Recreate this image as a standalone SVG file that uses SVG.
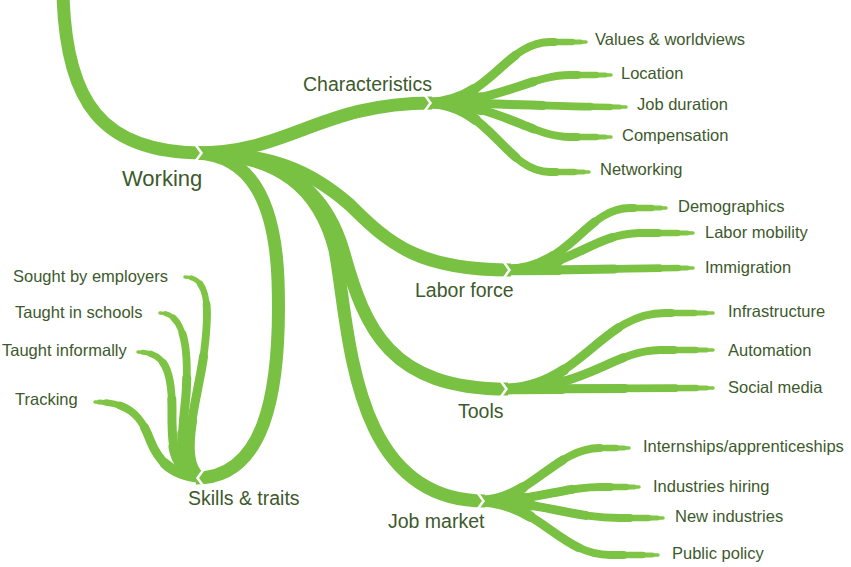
<svg xmlns="http://www.w3.org/2000/svg" xmlns:xlink="http://www.w3.org/1999/xlink" width="851" height="567" viewBox="0 0 851 567">
<style>
.br{fill:none;stroke:#79c142;stroke-linecap:butt;stroke-linejoin:round}
.main{stroke-width:13}
.tp use{fill:none;stroke-linecap:round}
.t1{stroke:#84c747;stroke-width:3.5}
.t2{stroke:#82c646;stroke-width:5;stroke-dasharray:97 300}
.t3{stroke:#7fc444;stroke-width:6.5;stroke-dasharray:92 300}
.t4{stroke:#7cc343;stroke-width:7.8;stroke-dasharray:82 300}
.t5{stroke:#79c142;stroke-width:9;stroke-dasharray:58 300}
.t6{stroke:#79c142;stroke-width:10.5;stroke-dasharray:28 300}
.notch{fill:none;stroke:#ffffff;stroke-width:2.5;stroke-linejoin:miter}
text{font-family:"Liberation Sans",Arial,sans-serif;fill:#3d5a2c}
.l0{font-size:22px}
.l1{font-size:19.5px}
.l2{font-size:16.5px}
</style>
<defs>
<path id="cv" pathLength="100" d="M428,103 C490,103 505,42 550,42 L586,42"/>
<path id="cl" pathLength="100" d="M428,103 C500,103 530,75 570,75 L611,75"/>
<path id="cj" pathLength="100" d="M428,103 C500,103 560,107 626,107"/>
<path id="cc" pathLength="100" d="M428,103 C500,103 530,137 570,137 L611,137"/>
<path id="cn" pathLength="100" d="M428,103 C490,103 505,172 550,172 L589,172"/>
<path id="ld" pathLength="100" d="M506,270 C570,270 585,208 630,208 L666,208"/>
<path id="lm" pathLength="100" d="M506,270 C575,268 590,234 640,233 L693,233"/>
<path id="li" pathLength="100" d="M506,270 C580,270 640,268 693,268"/>
<path id="ti" pathLength="100" d="M503,389 C580,389 600,313 665,313 L713,313"/>
<path id="ta" pathLength="100" d="M503,389 C590,389 610,351 660,350 L713,350"/>
<path id="ts" pathLength="100" d="M503,389 C590,389 650,388 713,388"/>
<path id="ji" pathLength="100" d="M480,501 C530,501 555,448 600,448 L629,448"/>
<path id="jh" pathLength="100" d="M480,501 C540,501 560,487 600,487 L639,487"/>
<path id="jn" pathLength="100" d="M480,501 C540,501 570,518 620,518 L663,518"/>
<path id="jp" pathLength="100" d="M480,501 C540,503 560,555 610,555 L658,555"/>
<path id="ss" pathLength="100" d="M201,478 C178,460 195,410 203,360 C210,310 210,277 185,277"/>
<path id="st" pathLength="100" d="M201,478 C175,465 183,430 186,395 C189,350 185,313 160,313"/>
<path id="sf" pathLength="100" d="M201,478 C170,470 172,440 172,410 C172,370 165,352 138,352"/>
<path id="sk" pathLength="100" d="M201,478 C170,475 158,460 150,440 C140,412 125,402 95,402"/>
<g id="kids">
<use xlink:href="#cv"/><use xlink:href="#cl"/><use xlink:href="#cj"/><use xlink:href="#cc"/><use xlink:href="#cn"/>
<use xlink:href="#ld"/><use xlink:href="#lm"/><use xlink:href="#li"/>
<use xlink:href="#ti"/><use xlink:href="#ta"/><use xlink:href="#ts"/>
<use xlink:href="#ji"/><use xlink:href="#jh"/><use xlink:href="#jn"/><use xlink:href="#jp"/>
<use xlink:href="#ss"/><use xlink:href="#st"/><use xlink:href="#sf"/><use xlink:href="#sk"/>
</g>
</defs>
<g id="connectors">
<path class="br main" d="M63,-5 C66,100 100,153 203,153"/>
<path class="br main" d="M196,153 C290,153 320,103 432,103"/>
<path class="br main" d="M196,153 C270,153 310,170 350,205 C390,245 420,270 511,270"/>
<path class="br main" d="M196,153 C280,153 325,190 343,250 C365,330 390,389 508,389"/>
<path class="br main" d="M196,153 C280,153 320,190 335,250 C350,330 350,501 485,501"/>
<path class="br main" d="M196,153 C250,155 275,200 278,280 C282,400 262,478 196,478"/>
<g class="tp">
<use xlink:href="#kids" class="t1"/>
<use xlink:href="#kids" class="t2"/>
<use xlink:href="#kids" class="t3"/>
<use xlink:href="#kids" class="t4"/>
<use xlink:href="#kids" class="t5"/>
<use xlink:href="#kids" class="t6"/>
</g>
<polyline class="notch" points="195,144 201.5,153 195,162"/>
<polyline class="notch" points="424,94 430.5,103 424,112"/>
<polyline class="notch" points="503,261 509.5,270 503,279"/>
<polyline class="notch" points="500,380 506.5,389 500,398"/>
<polyline class="notch" points="477,492 483.5,501 477,510"/>
<polyline class="notch" points="204,469 197.5,478 204,487"/>
</g>
<g id="working"><text class="l0" x="122" y="186">Working</text></g>
<g id="characteristics"><text class="l1" x="303" y="91">Characteristics</text></g>
<g id="labor-force"><text class="l1" x="415" y="297">Labor force</text></g>
<g id="tools"><text class="l1" x="458" y="418">Tools</text></g>
<g id="job-market"><text class="l1" x="388" y="528">Job market</text></g>
<g id="skills-traits"><text class="l1" x="188" y="505">Skills &amp; traits</text></g>
<g id="values"><text class="l2" x="595" y="45">Values &amp; worldviews</text></g>
<g id="location"><text class="l2" x="621" y="79">Location</text></g>
<g id="job-duration"><text class="l2" x="637" y="110">Job duration</text></g>
<g id="compensation"><text class="l2" x="622" y="141">Compensation</text></g>
<g id="networking"><text class="l2" x="600" y="175">Networking</text></g>
<g id="demographics"><text class="l2" x="678" y="212">Demographics</text></g>
<g id="labor-mobility"><text class="l2" x="705" y="238">Labor mobility</text></g>
<g id="immigration"><text class="l2" x="705" y="273">Immigration</text></g>
<g id="infrastructure"><text class="l2" x="728" y="317">Infrastructure</text></g>
<g id="automation"><text class="l2" x="728" y="356">Automation</text></g>
<g id="social-media"><text class="l2" x="728" y="393">Social media</text></g>
<g id="internships"><text class="l2" x="643" y="452">Internships/apprenticeships</text></g>
<g id="industries-hiring"><text class="l2" x="653" y="492">Industries hiring</text></g>
<g id="new-industries"><text class="l2" x="675" y="522">New industries</text></g>
<g id="public-policy"><text class="l2" x="672" y="559">Public policy</text></g>
<g id="sought"><text class="l2" x="13" y="282">Sought by employers</text></g>
<g id="taught-schools"><text class="l2" x="15" y="318">Taught in schools</text></g>
<g id="taught-informally"><text class="l2" x="2" y="356">Taught informally</text></g>
<g id="tracking"><text class="l2" x="15" y="405">Tracking</text></g>
</svg>
